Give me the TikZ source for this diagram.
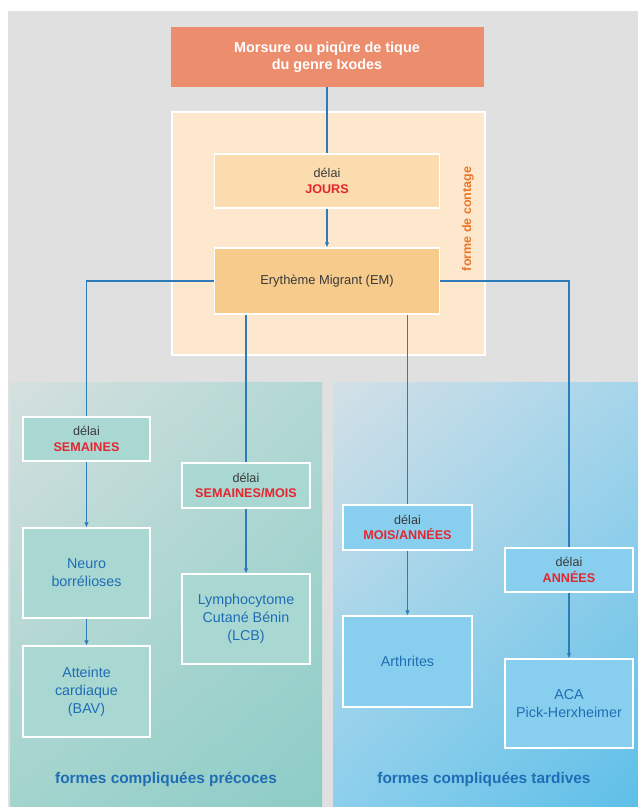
\documentclass[tikz,border=0pt]{standalone}
\usepackage{fontspec}
\setmainfont{Liberation Sans}
\usetikzlibrary{arrows.meta,shadings}
\definecolor{canvas}{HTML}{DFE0DF}
\definecolor{bite}{HTML}{EC8E6E}
\definecolor{zone}{HTML}{FDE8CE}
\definecolor{jours}{HTML}{FADCAE}
\definecolor{migrant}{HTML}{F7CB8C}
\definecolor{wire}{HTML}{2C7BBA}
\definecolor{alert}{HTML}{E3262E}
\definecolor{ink}{HTML}{3A3A3A}
\definecolor{textblue}{HTML}{1F6DB5}
\definecolor{contage}{HTML}{E8782A}
\definecolor{earlyfill}{HTML}{A9D8D3}
\definecolor{latefill}{HTML}{88CFEF}
\definecolor{earlyNW}{HTML}{D5E0DF}
\definecolor{earlyNE}{HTML}{B2D8D4}
\definecolor{earlySW}{HTML}{A3D4CE}
\definecolor{earlySE}{HTML}{8DCCC6}
\definecolor{lateNW}{HTML}{D3E0E6}
\definecolor{lateNE}{HTML}{A6D5EB}
\definecolor{lateSW}{HTML}{8CCFEC}
\definecolor{lateSE}{HTML}{5EBFE8}

\newcommand{\delai}[1]{{\color{ink}délai}\\{\color{alert}\bfseries #1}}

\begin{document}
\begin{tikzpicture}[x=1pt, y=-1pt, >={Latex[length=5pt,width=4.5pt]},
    box/.style={draw=white, line width=1.2pt, inner sep=2pt, align=center},
    delaybox/.style={box, font=\fontsize{12.6}{15.5}\selectfont},
    illbox/.style={box, text=textblue, font=\fontsize{14.3}{18}\selectfont},
    wireline/.style={wire, line width=1.5pt},
    panellabel/.style={text=textblue, font=\fontsize{15.4}{17}\selectfont\bfseries}]
    \useasboundingbox (0,0) rectangle (638,807);
    \fill[canvas] (8,11) rectangle (638,807);
    % panels
    \shade[upper left=earlyNW, upper right=earlyNE, lower left=earlySW, lower right=earlySE]
      (10,382) rectangle (322,807);
    \shade[upper left=lateNW, upper right=lateNE, lower left=lateSW, lower right=lateSE]
      (333,382) rectangle (638,807);
    \fill[zone, draw=white, line width=1.2pt] (172,112) rectangle (485,355);

    \node[draw=none, fill=bite, minimum width=313pt, minimum height=60pt, align=center,
      text=white, font=\fontsize{14.4}{17.6}\selectfont\bfseries] (morsure) at (327,57)
      {Morsure ou piqûre de tique\\du genre Ixodes};
    \node[delaybox, fill=jours, minimum width=225pt, minimum height=54pt] (jours) at (327,181) {\delai{JOURS}};
    \node[box, fill=migrant, minimum width=225pt, minimum height=66pt, text=ink,
      font=\fontsize{12.9}{15}\selectfont] (em) at (327,281) {Erythème Migrant (EM)};
    \node[rotate=90, text=contage, font=\fontsize{12.5}{14}\selectfont\bfseries] (contagelbl) at (468,219) {forme de contage};

    % formes precoces
    \node[delaybox, fill=earlyfill, minimum width=127pt, minimum height=44pt] (sem) at (86.5,439) {\delai{SEMAINES}};
    \node[illbox, fill=earlyfill, minimum width=127pt, minimum height=90pt] (neuro) at (86.5,573) {Neuro\\borrélioses};
    \node[illbox, fill=earlyfill, minimum width=127pt, minimum height=91pt] (bav) at (86.5,691.5) {Atteinte\\cardiaque\\(BAV)};
    \node[delaybox, fill=earlyfill, minimum width=128pt, minimum height=45pt] (smo) at (246,485.5) {\delai{SEMAINES/MOIS}};
    \node[illbox, fill=earlyfill, minimum width=128pt, minimum height=90pt] (lcb) at (246,619) {Lymphocytome\\Cutané Bénin\\(LCB)};
    \node[panellabel] (precoces) at (166,779) {formes compliquées précoces};

    % formes tardives
    \node[delaybox, fill=latefill, minimum width=129pt, minimum height=45pt] (man) at (407.5,527.5) {\delai{MOIS/ANNÉES}};
    \node[illbox, fill=latefill, minimum width=129pt, minimum height=91pt] (arth) at (407.5,661.5) {Arthrites};
    \node[delaybox, fill=latefill, minimum width=128pt, minimum height=44pt] (ann) at (569,570) {\delai{ANNÉES}};
    \node[illbox, fill=latefill, minimum width=128pt, minimum height=89pt] (aca) at (569,703.5) {ACA\\Pick-Herxheimer};
    \node[panellabel] (tardives) at (484,779) {formes compliquées tardives};

    % connectors
    \draw[wireline] (morsure.south) -- (jours.north);
    \draw[wireline, ->] (jours.south) -- (em.north);
    \draw[wireline] (em.west) -| (sem.north);
    \draw[wireline] (em.south -| smo.north) -- (smo.north);
    \draw[wireline] (em.south -| man.north) -- (man.north);
    \draw[wireline] (em.east) -| (ann.north);
    \draw[wireline, ->] (sem.south) -- (neuro.north);
    \draw[wireline, ->] (neuro.south) -- (bav.north);
    \draw[wireline, ->] (smo.south) -- (lcb.north);
    \draw[wireline, ->] (man.south) -- (arth.north);
    \draw[wireline, ->] (ann.south) -- (aca.north);
  \end{tikzpicture}
\end{document}
